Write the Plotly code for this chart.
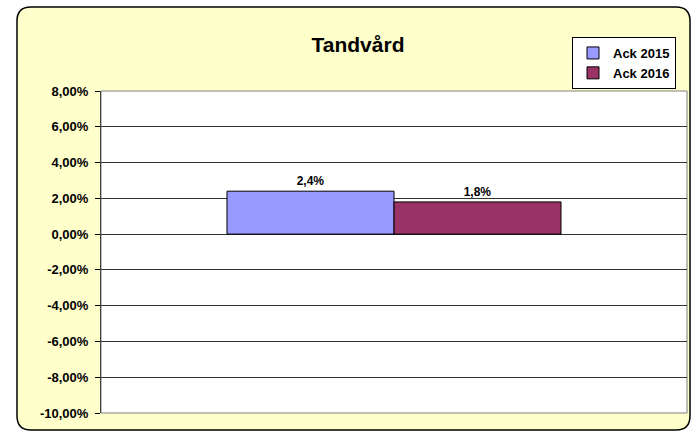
import plotly.graph_objects as go

categories = [""]
series_names = ["Ack 2015", "Ack 2016"]
values_2015 = [0.024]
values_2016 = [0.018]
colors = ["#9999FF", "#993366"]
tick_vals = [-0.10, -0.08, -0.06, -0.04, -0.02, 0.0, 0.02, 0.04, 0.06, 0.08]
tick_text = ["-10,00%", "-8,00%", "-6,00%", "-4,00%", "-2,00%", "0,00%",
             "2,00%", "4,00%", "6,00%", "8,00%"]

W, H = 700, 437
L, R, T, B = 101, 13, 91, 24
pw, ph = W - L - R, H - T - B
FONT = "Arial, Liberation Sans"

def fx(px):
    return (px - L) / pw

def fy(py):
    return (H - B - py) / ph

fig = go.Figure()
for name, vals, col in zip(series_names, [values_2015, values_2016], colors):
    fig.add_trace(go.Bar(
        x=categories, y=vals, name=name,
        marker=dict(color=col, line=dict(color="black", width=1)),
        texttemplate="%{y:.1%}", textposition="outside",
        textfont=dict(family=FONT, size=12, color="black", weight="bold"),
        cliponaxis=False,
    ))

# rounded chart border
x0, x1, y0, y1, r = 17, 690, 7, 430, 14
path = (
    f"M {fx(x0+r)} {fy(y0)} L {fx(x1-r)} {fy(y0)} "
    f"Q {fx(x1)} {fy(y0)} {fx(x1)} {fy(y0+r)} "
    f"L {fx(x1)} {fy(y1-r)} Q {fx(x1)} {fy(y1)} {fx(x1-r)} {fy(y1)} "
    f"L {fx(x0+r)} {fy(y1)} Q {fx(x0)} {fy(y1)} {fx(x0)} {fy(y1-r)} "
    f"L {fx(x0)} {fy(y0+r)} Q {fx(x0)} {fy(y0)} {fx(x0+r)} {fy(y0)} Z"
)
fig.add_shape(type="path", path=path, xref="paper", yref="paper",
              fillcolor="#FFFFCC", line=dict(color="black", width=1.5), layer="below")
fig.add_shape(type="rect", x0=0, x1=1, y0=0, y1=1, xref="paper", yref="paper",
              fillcolor="white", line=dict(color="#808080", width=1), layer="below")

fig.update_layout(
    width=W, height=H,
    margin=dict(l=L, r=R, t=T, b=B, pad=0),
    paper_bgcolor="white", plot_bgcolor="rgba(0,0,0,0)",
    separators=", ",
    barmode="group", bargap=0.43, bargroupgap=0,
    font=dict(family=FONT, size=12, color="black"),
    title=dict(text="<b>Tandvård</b>", x=358 / W, xref="container", xanchor="center",
               y=1 - 45 / H, yref="container", yanchor="middle",
               font=dict(size=21, family=FONT, color="black")),
    legend=dict(x=fx(676), y=fy(37), xanchor="right", yanchor="top",
                bgcolor="white", bordercolor="black", borderwidth=1,
                font=dict(size=13, family=FONT, color="black", weight="bold"),
                tracegroupgap=0, itemwidth=30),
    showlegend=True,
)
fig.update_yaxes(range=[-0.10, 0.08], tickvals=tick_vals, ticktext=tick_text,
                 tickfont=dict(size=13, family=FONT, color="black", weight="bold"),
                 ticklabelstandoff=4,
                 showgrid=True, gridcolor="#333333", gridwidth=1,
                 showline=True, linecolor="#404040", linewidth=1,
                 ticks="outside", ticklen=5, tickcolor="black",
                 zeroline=False, fixedrange=True)
fig.update_xaxes(showticklabels=False, showgrid=False, zeroline=False, fixedrange=True)

fig.write_html("out.html", config={"displayModeBar": False},
               post_script="document.body.style.margin='0';document.body.style.padding='0';")
